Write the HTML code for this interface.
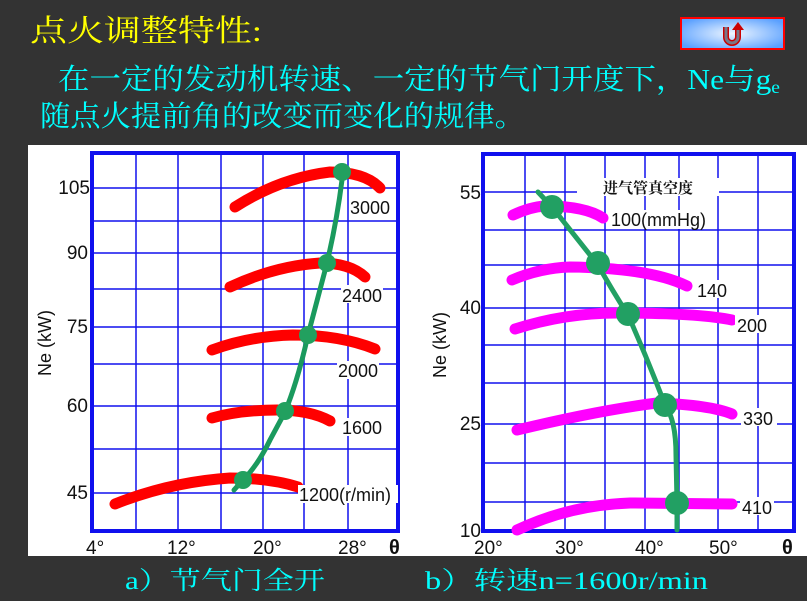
<!DOCTYPE html>
<html><head><meta charset="utf-8"><style>
html,body{margin:0;padding:0;background:#333;width:807px;height:601px;overflow:hidden}
svg{display:block}
</style></head><body>
<svg width="807" height="601" viewBox="0 0 807 601" xmlns="http://www.w3.org/2000/svg">
<rect width="807" height="601" fill="#333"/>
<g font-family="'Liberation Serif','Noto Serif CJK SC',serif">
<text x="30" y="41" font-size="30" fill="#ffff00" textLength="232" lengthAdjust="spacingAndGlyphs">点火调整特性:</text>
<text x="58" y="89" font-size="29" fill="#00ffff" textLength="722" lengthAdjust="spacingAndGlyphs">在一定的发动机转速、一定的节气门开度下，Ne与g<tspan font-size="18" dy="4">e</tspan></text>
<text x="40" y="126" font-size="29" fill="#00ffff" textLength="485" lengthAdjust="spacingAndGlyphs">随点火提前角的改变而变化的规律。</text>
<text x="125" y="589" font-size="25" fill="#00ffff" textLength="200" lengthAdjust="spacingAndGlyphs">a）节气门全开</text>
<text x="425" y="589" font-size="25" fill="#00ffff" textLength="283" lengthAdjust="spacingAndGlyphs">b）转速n=1600r/min</text>
</g>
<defs><radialGradient id="bg" cx="50%" cy="50%" r="60%"><stop offset="0" stop-color="#eef6ff"/><stop offset="1" stop-color="#5aa0ff"/></radialGradient></defs>
<rect x="681" y="18" width="103" height="31" fill="url(#bg)" stroke="#ff0000" stroke-width="2"/>
<path d="M726 27 v10 a6 6 0 0 0 12 0 v-7" fill="none" stroke="#c00" stroke-width="6"/>
<path d="M726 27 v10 a6 6 0 0 0 12 0 v-7" fill="none" stroke="#778" stroke-width="3"/>
<path d="M732 30 l6 -8 l6 8 z" fill="#c00"/>
<rect x="28" y="145" width="779" height="411" fill="#fff"/>
<g stroke="#1010ee" stroke-width="1.5">
<line x1="136" y1="153" x2="136" y2="531"/><line x1="178" y1="153" x2="178" y2="531"/><line x1="221" y1="153" x2="221" y2="531"/><line x1="263" y1="153" x2="263" y2="531"/><line x1="304" y1="153" x2="304" y2="531"/><line x1="348" y1="153" x2="348" y2="531"/>
<line x1="92" y1="188" x2="398" y2="188"/><line x1="92" y1="221" x2="398" y2="221"/><line x1="92" y1="253" x2="398" y2="253"/><line x1="92" y1="289" x2="398" y2="289"/><line x1="92" y1="327" x2="398" y2="327"/><line x1="92" y1="364" x2="398" y2="364"/><line x1="92" y1="406" x2="398" y2="406"/><line x1="92" y1="449" x2="398" y2="449"/><line x1="92" y1="493" x2="398" y2="493"/>
</g>
<rect x="92" y="153" width="306" height="378" fill="none" stroke="#1010ee" stroke-width="4"/>
<g fill="none" stroke="#ff0000" stroke-width="11" stroke-linecap="round">
<path d="M235 207 Q280 178 330 172 Q365 172 380 188"/>
<path d="M230 287 Q275 266 320 263 Q350 263 365 277"/>
<path d="M212 350 Q250 336 293 335 Q340 335 375 349"/>
<path d="M212 418 Q240 410 277 410 Q310 410 330 421"/>
<path d="M115 504 Q170 482 230 478 Q270 478 298 487"/>
</g>
<g fill="none" stroke="#1a9a5e" stroke-width="5" stroke-linecap="round">
<path d="M234 490 L243 480 Q258 465 270 440 L285 412 Q298 380 308 335 L327 263 Q337 220 342 180"/>
</g>
<g fill="#22a05f"><circle cx="243" cy="480" r="9"/><circle cx="285" cy="411" r="9"/><circle cx="308" cy="335" r="9"/><circle cx="327" cy="263" r="9"/><circle cx="342" cy="172" r="9"/></g>
<g font-family="'Liberation Sans',sans-serif" font-size="18" fill="#111">
<rect x="349" y="198" width="42" height="18" fill="#fff"/><text x="350" y="214">3000</text>
<rect x="341" y="285" width="42" height="18" fill="#fff"/><text x="342" y="302">2400</text>
<rect x="337" y="361" width="42" height="18" fill="#fff"/><text x="338" y="377">2000</text>
<rect x="341" y="418" width="42" height="18" fill="#fff"/><text x="342" y="434">1600</text>
<rect x="298" y="485" width="100" height="18" fill="#fff"/><text x="299" y="501">1200(r/min)</text>
<text x="90" y="194" text-anchor="end" font-size="19">105</text>
<text x="88" y="259" text-anchor="end" font-size="19">90</text>
<text x="88" y="333" text-anchor="end" font-size="19">75</text>
<text x="88" y="412" text-anchor="end" font-size="19">60</text>
<text x="88" y="499" text-anchor="end" font-size="19">45</text>
<text x="86" y="554" font-size="19">4°</text>
<text x="167" y="554" font-size="19">12°</text>
<text x="253" y="554" font-size="19">20°</text>
<text x="338" y="554" font-size="19">28°</text>
<text x="389" y="554" font-size="20" font-weight="bold">θ</text>
<text transform="translate(51,343) rotate(-90)" text-anchor="middle" font-size="18">Ne (kW)</text>
</g>
<g stroke="#1010ee" stroke-width="1.5">
<line x1="525" y1="154" x2="525" y2="531"/><line x1="565" y1="154" x2="565" y2="531"/><line x1="605" y1="154" x2="605" y2="531"/><line x1="645" y1="154" x2="645" y2="531"/><line x1="679" y1="154" x2="679" y2="531"/><line x1="718" y1="154" x2="718" y2="531"/><line x1="758" y1="154" x2="758" y2="531"/>
<line x1="483" y1="192" x2="794" y2="192"/><line x1="483" y1="230" x2="794" y2="230"/><line x1="483" y1="265" x2="794" y2="265"/><line x1="483" y1="308" x2="794" y2="308"/><line x1="483" y1="345" x2="794" y2="345"/><line x1="483" y1="383" x2="794" y2="383"/><line x1="483" y1="424" x2="794" y2="424"/><line x1="483" y1="463" x2="794" y2="463"/><line x1="483" y1="502" x2="794" y2="502"/>
</g>
<rect x="483" y="154" width="311" height="377" fill="none" stroke="#1010ee" stroke-width="4"/>
<g fill="none" stroke="#ff00ff" stroke-width="11" stroke-linecap="round">
<path d="M513 215 Q530 207 545 206 Q585 206 603 218"/>
<path d="M512 280 Q540 268 570 267 Q650 268 687 286"/>
<path d="M515 329 Q565 313 617 313 Q700 313 732 320"/>
<path d="M517 430 Q600 410 657 403 Q710 405 732 414"/>
<path d="M517 530 Q570 505 630 503 L732 504"/>
</g>
<g fill="none" stroke="#22a063" stroke-width="5" stroke-linecap="round">
<path d="M538 192 L552 207 L598 265 Q612 290 628 315 Q648 360 665 405 Q676 420 676 455 L677 503 L677 530"/>
</g>
<g fill="#22a063"><circle cx="552" cy="207" r="12"/><circle cx="598" cy="263" r="12"/><circle cx="628" cy="314" r="12"/><circle cx="665" cy="405" r="12"/><circle cx="677" cy="503" r="12"/></g>
<g font-family="'Liberation Sans',sans-serif" font-size="18" fill="#111">
<rect x="577" y="178" width="142" height="18" fill="#fff"/>
<text x="648" y="193" text-anchor="middle" font-size="15" font-family="'Liberation Serif','Noto Serif CJK SC',serif" font-weight="bold">进气管真空度</text>
<rect x="609" y="210" width="106" height="19" fill="#fff"/><text x="611" y="226">100(mmHg)</text>
<rect x="695" y="280" width="34" height="18" fill="#fff"/><text x="697" y="297">140</text>
<rect x="735" y="315" width="34" height="18" fill="#fff"/><text x="737" y="332">200</text>
<rect x="741" y="408" width="36" height="18" fill="#fff"/><text x="743" y="425">330</text>
<rect x="740" y="497" width="34" height="18" fill="#fff"/><text x="742" y="514">410</text>
<text x="481" y="199" text-anchor="end" font-size="19">55</text>
<text x="481" y="314" text-anchor="end" font-size="19">40</text>
<text x="481" y="430" text-anchor="end" font-size="19">25</text>
<text x="481" y="537" text-anchor="end" font-size="19">10</text>
<text x="474" y="554" font-size="19">20°</text>
<text x="555" y="554" font-size="19">30°</text>
<text x="635" y="554" font-size="19">40°</text>
<text x="709" y="554" font-size="19">50°</text>
<text x="782" y="554" font-size="20" font-weight="bold">θ</text>
<text transform="translate(446,345) rotate(-90)" text-anchor="middle" font-size="18">Ne (kW)</text>
</g>
</svg>
</body></html>
